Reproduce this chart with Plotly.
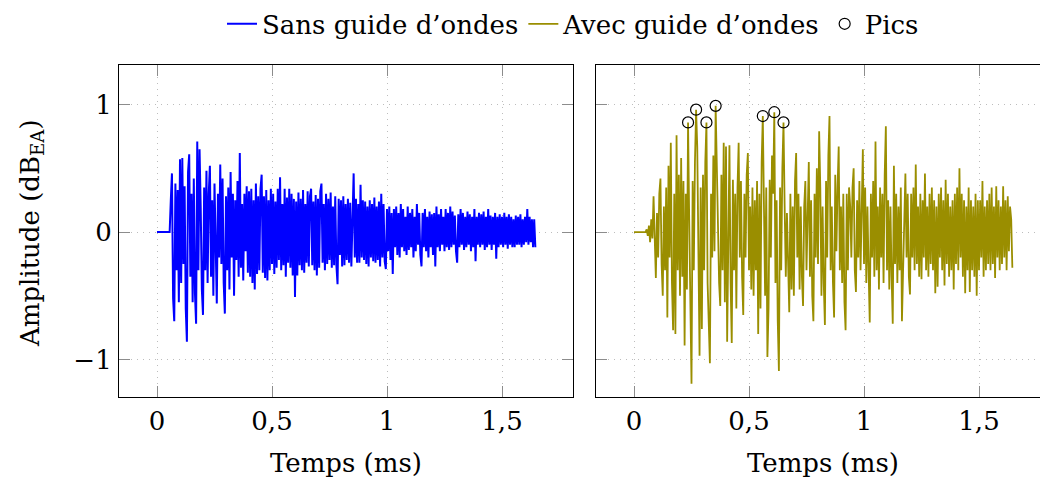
import numpy as np
import plotly.graph_objects as go

DT = 0.005  # ms, sampling step of both recordings

# Amplitude (dB_EA) without waveguide, one value every DT from t = 0
sans_guide = [
    0, 0, 0, 0, 0, 0, 0, 0, 0, 0,
    0, 0, 0.25, 0.46, -0.52, -0.70, 0.38, -0.30, 0.33, -0.55,
    0.57, -0.40, 0.58, -0.25, 0.36, -0.60, -0.86, 0.47, 0.61, -0.35,
    0.30, -0.55, 0.42, -0.48, -0.72, 0.71, -0.30, 0.65, 0.20, -0.45,
    -0.65, 0.35, -0.30, 0.48, -0.40, 0.30, 0.52, -0.35, 0.25, -0.50,
    0.38, -0.30, -0.56, 0.30, -0.20, 0.53, -0.25, 0.42, -0.40, -0.64,
    0.28, -0.30, 0.35, -0.45, 0.47, -0.20, 0.30, -0.50, 0.25, -0.22,
    0.40, -0.35, 0.62, -0.28, 0.22, -0.38, 0.30, -0.15, 0.36, -0.32,
    0.32, -0.35, 0.34, -0.40, 0.25, -0.45, 0.38, -0.33, 0.28, -0.30,
    0.34, 0.45, -0.32, 0.28, -0.36, 0.33, -0.38, 0.25, -0.30, 0.34,
    -0.25, 0.30, -0.33, 0.24, -0.28, 0.34, -0.22, 0.43, -0.30, 0.22,
    -0.26, 0.34, -0.35, 0.27, -0.24, 0.34, -0.28, 0.30, -0.34, 0.26,
    -0.51, 0.24, -0.34, 0.31, -0.26, 0.26, -0.30, 0.33, -0.32, 0.22,
    -0.24, 0.32, -0.27, 0.28, 0.34, -0.26, 0.24, -0.30, 0.29, -0.34,
    0.26, -0.28, 0.32, 0.38, -0.24, 0.22, -0.30, 0.30, -0.25, 0.26,
    -0.22, 0.31, -0.28, 0.20, -0.26, 0.28, -0.26, -0.41, 0.26, -0.18,
    0.25, -0.27, 0.28, -0.26, 0.22, -0.22, 0.26, -0.24, 0.23, -0.27,
    0.24, 0.46, -0.20, 0.26, -0.24, 0.22, -0.24, 0.37, -0.20, 0.25,
    -0.22, 0.24, -0.25, 0.20, -0.27, 0.25, -0.20, 0.22, -0.23, 0.27,
    -0.24, 0.20, -0.22, 0.24, -0.27, 0.30, -0.20, 0.22, -0.23, -0.29,
    0.18, -0.15, 0.20, -0.22, 0.15, -0.33, 0.18, -0.12, 0.20, -0.18,
    0.15, -0.20, 0.22, -0.12, 0.18, -0.15, 0.12, -0.18, 0.20, -0.14,
    0.15, -0.12, 0.18, -0.20, 0.12, -0.15, 0.22, -0.10, 0.15, -0.18,
    -0.27, 0.15, -0.12, 0.18, -0.15, 0.12, -0.20, 0.16, -0.12, 0.14,
    -0.18, 0.15, -0.27, 0.20, -0.12, 0.14, -0.15, 0.18, -0.10, 0.12,
    -0.15, 0.18, -0.12, 0.15, -0.14, 0.20, -0.12, 0.16, -0.10, 0.13,
    -0.15, -0.24, 0.14, -0.12, 0.18, -0.10, 0.15, -0.14, 0.12, -0.12,
    0.16, -0.10, 0.14, -0.15, 0.12, -0.12, 0.18, -0.23, 0.12, -0.10,
    0.15, -0.12, 0.14, -0.10, 0.16, -0.14, 0.12, -0.12, 0.18, -0.10,
    0.13, -0.14, 0.12, -0.10, 0.15, -0.21, 0.12, -0.12, 0.14, -0.10,
    0.12, -0.12, 0.15, -0.10, 0.12, -0.13, 0.14, -0.10, 0.12, -0.12,
    0.10, -0.12, 0.13, -0.10, 0.12, -0.10, 0.14, -0.12, 0.10, -0.10,
    0.12, -0.08, 0.18, -0.10, 0.12, -0.08, 0.10, -0.12, 0.10, -0.12,
]

# Amplitude (dB_EA) with waveguide, one value every DT from t = 0
avec_guide = [
    0, 0, 0, 0, 0, 0, 0, 0, 0, 0,
    0.0, 0.02, -0.03, 0.05, -0.08, 0.10, -0.05, 0.28, -0.12, -0.36,
    0.15, -0.20, 0.30, 0.42, -0.25, -0.50, 0.20, -0.30, 0.35, -0.67,
    0.52, -0.20, 0.70, -0.40, -0.77, 0.30, -0.80, 0.76, -0.30, 0.45,
    -0.50, 0.58, -0.35, 0.40, -0.89, 0.30, -0.45, 0.86, 0.10, -0.60,
    -1.19, 0.40, -0.30, 0.55, 0.96, 0.67, -0.50, -0.97, 0.35, -0.76,
    0.45, -0.30, 0.55, 0.86, -0.40, -0.75, -1.03, 0.30, -0.20, 0.60,
    -0.15, 0.99, 0.40, -0.10, -0.40, -0.58, 0.45, -0.30, 0.70, -0.55,
    0.67, -0.86, -0.20, 0.68, -0.40, -0.87, 0.41, -0.30, 0.30, -0.60,
    0.35, 0.70, -0.20, 0.40, -0.35, -0.65, 0.30, -0.20, 0.45, 0.62,
    -0.30, 0.20, -0.45, 0.35, -0.50, 0.25, -0.30, 0.40, -0.80, 0.30,
    -0.60, 0.55, 0.91, 0.20, -0.50, 0.35, -0.98, -0.60, 0.41, -0.20,
    0.60, 0.30, 0.94, -0.40, 0.25, -0.70, -1.09, 0.35, -0.30, 0.50,
    0.86, 0.20, -0.35, 0.15, -0.40, -0.63, 0.30, -0.45, 0.20, -0.50,
    0.40, 0.62, -0.20, 0.30, -0.45, 0.20, -0.35, -0.58, 0.20, 0.40,
    -0.30, 0.30, 0.55, -0.35, 0.25, -0.50, -0.70, 0.30, -0.20, 0.50,
    -0.25, 0.79, 0.35, -0.50, 0.20, -0.40, -0.73, 0.40, -0.20, 0.60,
    0.91, -0.30, 0.20, -0.40, -0.67, 0.45, -0.15, 0.35, 0.67, -0.30,
    0.20, -0.40, 0.30, -0.55, -0.77, 0.30, -0.30, 0.35, 0.20, -0.20,
    0.35, 0.50, -0.30, -0.47, 0.25, -0.20, 0.40, -0.30, 0.30, 0.65,
    -0.25, 0.35, -0.40, 0.20, -0.30, -0.71, 0.30, -0.20, 0.40, -0.35,
    0.71, -0.30, 0.20, -0.45, 0.35, -0.20, 0.30, -0.40, 0.45, 0.83,
    -0.30, 0.25, -0.45, 0.20, -0.35, -0.72, 0.52, -0.25, 0.30, -0.40,
    0.20, -0.30, 0.35, -0.70, -0.30, 0.25, 0.46, -0.20, 0.30, -0.35,
    -0.49, 0.30, -0.20, 0.35, -0.30, 0.53, -0.25, 0.20, -0.35, 0.30,
    -0.37, 0.25, -0.20, 0.46, -0.30, 0.20, -0.35, 0.30, -0.25, 0.35,
    -0.30, 0.25, -0.48, 0.20, -0.43, 0.30, -0.20, 0.35, -0.30, 0.25,
    -0.42, 0.41, -0.25, 0.30, -0.35, 0.20, -0.30, 0.25, -0.45, 0.30,
    -0.25, 0.35, -0.30, 0.50, -0.20, 0.30, -0.35, 0.25, -0.48, 0.20,
    -0.30, 0.35, -0.47, 0.25, -0.30, 0.20, -0.35, 0.30, -0.50, 0.25,
    -0.30, 0.25, -0.20, 0.40, -0.35, 0.20, -0.30, 0.25, -0.25, 0.30,
    -0.30, 0.35, -0.25, 0.20, -0.36, 0.36, -0.20, 0.25, -0.30, 0.20,
    -0.25, 0.36, -0.20, 0.25, -0.30, 0.28, -0.15, 0.20, 0.10, -0.28,
]

# Detected peaks (with waveguide)
pics_t = [0.235, 0.270, 0.315, 0.355, 0.560, 0.610, 0.650]
pics_y = [0.86, 0.96, 0.86, 0.99, 0.91, 0.94, 0.86]

x_tickvals = [0, 0.5, 1, 1.5]
x_ticktext = ["0", "0,5", "1", "1,5"]
y_tickvals = [-1, 0, 1]
y_ticktext = ["\u22121", "0", "1"]

FONT = "DejaVu Serif"
FS = 26
BLUE = "#0000ff"
OLIVE = "#9a8e00"

t_sans = np.arange(len(sans_guide)) * DT
t_avec = np.arange(len(avec_guide)) * DT

fig = go.Figure()
fig.add_trace(go.Scatter(x=t_sans, y=sans_guide, mode="lines", name="Sans guide d\u2019ondes",
                         line=dict(color=BLUE, width=2.0), xaxis="x", yaxis="y"))
fig.add_trace(go.Scatter(x=t_avec, y=avec_guide, mode="lines", name="Avec guide d\u2019ondes",
                         line=dict(color=OLIVE, width=1.8), xaxis="x2", yaxis="y2"))
fig.add_trace(go.Scatter(x=pics_t, y=pics_y, mode="markers", name="Pics",
                         marker=dict(symbol="circle-open", size=11, color="black",
                                     line=dict(width=1.2, color="black")),
                         xaxis="x2", yaxis="y2"))

W, H = 1040, 481
def px_x(p):
    return p / W
def px_y(p):
    return 1 - p / H

GRID = dict(showgrid=True, gridcolor="#bdbdbd", griddash="1px,5px", gridwidth=1)
common_x = dict(tickvals=x_tickvals, ticktext=x_ticktext, ticks="inside", ticklen=11,
                tickcolor="#8c8c8c", tickwidth=1, showline=True, linecolor="black", linewidth=1.2,
                mirror="allticks", zeroline=False, tickfont=dict(family=FONT, size=FS, color="black"),
                ticklabelstandoff=0, **GRID)
common_y = dict(tickvals=y_tickvals, ticktext=y_ticktext, ticks="inside", ticklen=11,
                tickcolor="#8c8c8c", tickwidth=1, showline=True, linecolor="black", linewidth=1.2,
                zeroline=False, tickfont=dict(family=FONT, size=FS, color="black"),
                range=[-1.297, 1.3125], ticklabelstandoff=1, **GRID)

fig.update_layout(
    width=W, height=H, margin=dict(l=0, r=0, t=0, b=0),
    plot_bgcolor="white", paper_bgcolor="white",
    font=dict(family=FONT, size=FS, color="black"),
    xaxis=dict(domain=[px_x(119), px_x(573)], range=[-0.1652, 1.8087], anchor="y", **common_x),
    xaxis2=dict(domain=[px_x(596), 1.0], range=[-0.1652, 1.7652], anchor="y2", **common_x),
    yaxis=dict(domain=[px_y(397), px_y(63)], anchor="x", mirror="allticks", **common_y),
    yaxis2=dict(domain=[px_y(397), px_y(63)], anchor="x2", mirror=False, showticklabels=False, **common_y),
    legend=dict(orientation="h", x=px_x(573), xanchor="center", y=px_y(22), yanchor="middle",
                font=dict(family=FONT, size=FS), itemwidth=30, bgcolor="rgba(0,0,0,0)",
                tracegroupgap=0),
    showlegend=True,
    annotations=[
        dict(text="Temps (ms)", xref="paper", yref="paper", x=px_x(346), y=px_y(463),
             xanchor="center", yanchor="middle", showarrow=False, font=dict(family=FONT, size=FS)),
        dict(text="Temps (ms)", xref="paper", yref="paper", x=px_x(823), y=px_y(463),
             xanchor="center", yanchor="middle", showarrow=False, font=dict(family=FONT, size=FS)),
        dict(text="Amplitude (dB<sub>EA</sub>)", xref="paper", yref="paper", x=px_x(31), y=px_y(232),
             xanchor="center", yanchor="middle", textangle=-90, showarrow=False,
             font=dict(family=FONT, size=FS)),
    ],
)

fig.write_html("out.html", config={"displayModeBar": False},
               post_script="document.body.style.margin='0';document.body.style.overflow='hidden';")
